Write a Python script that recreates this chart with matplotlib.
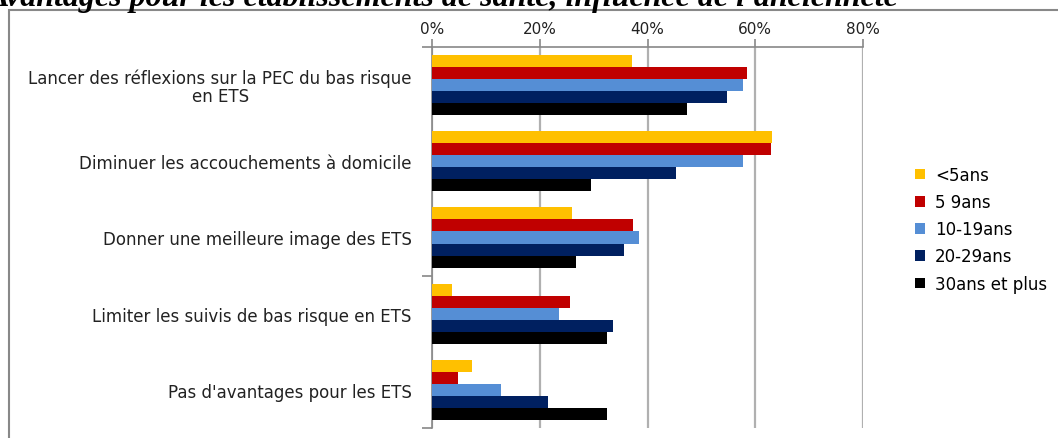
import numpy as np
import matplotlib
matplotlib.use('Agg')
import matplotlib.pyplot as plt
from matplotlib.patches import Rectangle

# categories, top to bottom
categories = ['Lancer des réflexions sur la PEC du bas risque\nen ETS',
              'Diminuer les accouchements à domicile',
              'Donner une meilleure image des ETS',
              'Limiter les suivis de bas risque en ETS',
              "Pas d'avantages pour les ETS"]

# series (percent), same order as categories
moins_5 = [37.1, 63.2, 26.0, 3.7, 7.4]
de_5_9 = [58.4, 63.0, 37.3, 25.7, 4.9]
de_10_19 = [57.7, 57.7, 38.4, 23.5, 12.8]
de_20_29 = [54.8, 45.3, 35.7, 33.6, 21.6]
plus_30 = [47.3, 29.5, 26.7, 32.5, 32.5]

series = [moins_5, de_5_9, de_10_19, de_20_29, plus_30]
series_labels = ['<5ans', '5 9ans', '10-19ans', '20-29ans', '30ans et plus']
colors = ['#FFC000', '#C00000', '#558ED5', '#002060', '#000000']

W, H = 1058, 439
fig = plt.figure(figsize=(W / 100, H / 100), dpi=100)
ax = fig.add_axes([432 / W, 1 - 429 / H, (863 - 432) / W, (429 - 48) / H])

h = 0.158
y = np.arange(len(categories)) + 0.5
for j, (vals, lab, col) in enumerate(zip(series, series_labels, colors)):
    ax.barh(y + (j - 2) * h, vals, height=h, color=col, label=lab, zorder=3)

ax.set_xlim(0, 80)
ax.set_ylim(5, 0)
ax.xaxis.tick_top()
ax.set_xticks([0, 20, 40, 60, 80])
ax.set_xticklabels(['0%', '20%', '40%', '60%', '80%'], fontsize=11, color='#222222')
ax.tick_params(axis='x', direction='out', length=6, color='#888888', width=1.2, pad=2)
ax.grid(axis='x', color='#b0b0b0', linewidth=1.6, zorder=0)

ax.set_yticks(y)
ax.set_yticklabels(categories, fontsize=12, color='#222222', ha='right',
                   multialignment='center')
for t in ax.get_yticklabels():
    t.set_linespacing(1.0)
ax.tick_params(axis='y', length=0, pad=14.5)
ax.set_yticks([0, 3, 5], minor=True)
ax.tick_params(axis='y', which='minor', direction='out', length=7, color='#888888', width=1.2)

for s in ['right', 'bottom']:
    ax.spines[s].set_visible(False)
for s in ['left', 'top']:
    ax.spines[s].set_color('#888888')
    ax.spines[s].set_linewidth(1.2)

ax.legend(loc='upper left', bbox_to_anchor=(900 / W, 1 - 152 / H), bbox_transform=fig.transFigure,
          frameon=False, fontsize=12, handlelength=0.6, handleheight=0.6,
          handletextpad=0.6, labelspacing=0.55)

# outer chart frame
fig.patches.append(Rectangle((9 / W, -0.1), 1.2, (H - 11) / H + 0.1, transform=fig.transFigure,
                             fill=False, edgecolor='#888888', linewidth=1.5))

# title cut off at the top of the picture
fig.text(-12 / W, 1 - 6 / H, "Avantages pour les établissements de santé, influence de l'ancienneté",
         fontsize=23, fontweight='bold', fontstyle='italic', family='Liberation Serif',
         va='baseline', ha='left')

fig.savefig('out.png', dpi=100)
